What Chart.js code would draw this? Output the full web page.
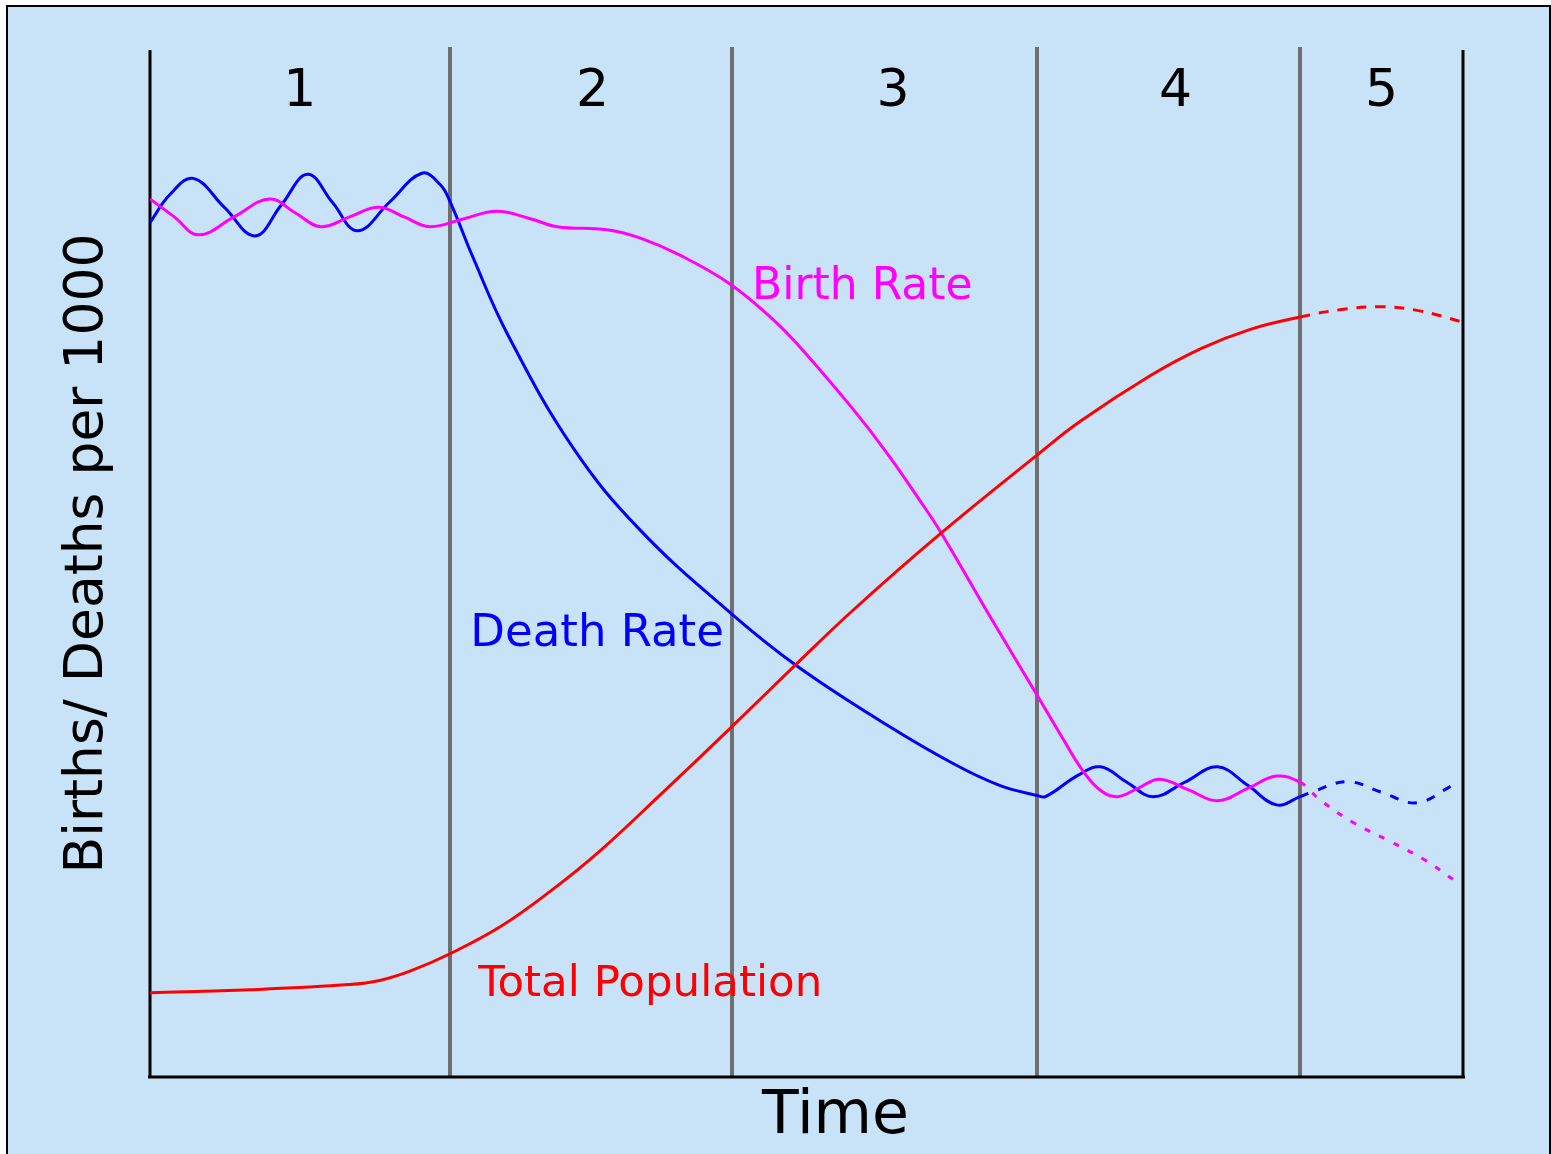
<!DOCTYPE html>
<html>
<head>
<meta charset="utf-8">
<title>Demographic Transition</title>
<script src="https://cdn.jsdelivr.net/npm/chart.js@4"></script>
<style>
  html, body { margin: 0; padding: 0; background: #ffffff; overflow: hidden; }
  #frame {
    position: absolute; left: 6px; top: 5px;
    width: 1541px; height: 1200px;
    border: 2px solid #000; background: #c8e2f8;
  }
  #demo { position: absolute; left: 0; top: 0; }
</style>
</head>
<body>
<div id="frame"></div>
<canvas id="demo" width="1551" height="1154"></canvas>
<script>
// Demographic transition model
// time runs 0..100 across the five stages, rates 0..100 up the axis

const stageLabels = ["1", "2", "3", "4", "5"];
const stageLabelAt = [11.4, 33.7, 56.6, 78.1, 93.8];
const stageBounds = [0, 22.85, 44.33, 67.55, 87.59, 100];
const forecastFrom = 87.59; // stage 5 is drawn dashed

const birthTime = [0, 1.85, 3.7, 6.4, 9.1, 11.05, 13.0, 15.2, 17.4, 19.35, 21.3, 23.85, 26.4, 28.9, 31.0,
  34.8, 37.3, 40.4, 44.2, 47.5, 49.7, 53.5, 56.1, 58.6, 60.2, 64.0, 67.6, 69.5, 71.0, 72.4, 73.7,
  75.3, 76.9, 79.1, 81.3, 83.6, 85.8, 87.6, 88.4, 89.3, 91.6, 94.2, 97.0, 99.4];
const birthRate = [85.5, 83.75, 82.0, 83.75, 85.5, 84.15, 82.8, 83.75, 84.7, 83.75, 82.8, 83.55, 84.3, 83.6, 82.8,
  82.5, 81.7, 80.0, 77.2, 73.7, 70.8, 65.1, 60.8, 56.2, 53.1, 44.8, 37.1, 33.0, 29.9, 27.9, 27.3,
  28.15, 29.0, 27.95, 26.9, 28.1, 29.3, 28.7, 27.8, 26.8, 24.8, 23.1, 21.2, 19.1];

const deathTime = [0, 1.5, 3.3, 5.65, 8.0, 10.0, 12.0, 13.9, 15.8, 18.25, 20.7, 22.1, 22.9, 24.6, 27.2,
  32.2, 37.3, 44.2, 49.3, 56.1, 61.2, 64.7, 67.6, 68.2, 70.7, 72.4, 74.4, 76.4, 78.8, 81.3,
  83.6, 85.8, 87.6, 88.4, 91.2, 93.85, 96.5, 99.2];
const deathRate = [83.2, 85.9, 87.5, 84.7, 81.9, 84.9, 87.9, 85.15, 82.4, 85.2, 88.0, 86.9, 85.1, 79.8, 72.4,
  61.3, 53.3, 45.2, 40.0, 34.3, 30.5, 28.4, 27.4, 27.3, 29.4, 30.2, 28.7, 27.3, 28.7, 30.2,
  28.4, 26.5, 27.3, 27.7, 28.75, 27.7, 26.7, 28.4];

const popTime = [0, 7.6, 15.2, 17.5, 19.8, 22.85, 26.7, 30.5, 34.3, 38.8, 44.3, 49.3, 53.5, 60.2, 67.6, 70.8,
  76.2, 80.0, 83.8, 87.6, 90.6, 93.7, 96.7, 100];
const popValue = [8.2, 8.5, 9.0, 9.4, 10.3, 12.0, 14.65, 18.1, 22.05, 27.4, 34.1, 40.3, 45.4, 52.9, 60.6, 63.8,
  68.3, 70.9, 72.8, 74.0, 74.7, 75.0, 74.6, 73.5];

const zip = (xs, ys) => xs.map((x, i) => ({ x: x, y: ys[i] }));

const dashAfter = (pattern) => (ctx) =>
  ctx.p0.parsed.x >= forecastFrom - 0.01 ? pattern : undefined;

const FONT = "'DejaVu Sans', sans-serif";

// stage dividers, axes and all the labels
const decor = {
  id: "decor",
  beforeDatasetsDraw(chart) {
    const { ctx, chartArea: a, scales } = chart;
    const xs = scales.x;
    ctx.save();
    ctx.lineCap = "butt";
    ctx.strokeStyle = "#6f6f6f";
    ctx.lineWidth = 4;
    stageBounds.slice(1, -1).forEach((b) => {
      const px = Math.round(xs.getPixelForValue(b));
      ctx.beginPath();
      ctx.moveTo(px, a.top - 3);
      ctx.lineTo(px, a.bottom);
      ctx.stroke();
    });
    ctx.strokeStyle = "#000";
    ctx.lineWidth = 3;
    ctx.beginPath();
    ctx.moveTo(a.left, a.top);
    ctx.lineTo(a.left, a.bottom);
    ctx.moveTo(a.right, a.top);
    ctx.lineTo(a.right, a.bottom);
    ctx.moveTo(a.left - 2, a.bottom);
    ctx.lineTo(a.right + 2, a.bottom);
    ctx.stroke();
    ctx.restore();
  },
  afterDraw(chart) {
    const { ctx, chartArea: a, scales } = chart;
    const xs = scales.x, ys = scales.y;
    ctx.save();
    ctx.textBaseline = "middle";
    ctx.textAlign = "center";
    ctx.fillStyle = "#000";
    ctx.font = "52px " + FONT;
    stageLabels.forEach((s, i) => {
      ctx.fillText(s, xs.getPixelForValue(stageLabelAt[i]), a.top + 42);
    });

    ctx.font = "60px " + FONT;
    ctx.fillText("Time", (a.left + a.right) / 2 + 29, a.bottom + 40);

    ctx.save();
    ctx.font = "53.5px " + FONT;
    ctx.translate(88, (a.top + a.bottom) / 2 - 10);
    ctx.rotate(-Math.PI / 2);
    ctx.fillText("Births/ Deaths per 1000", 0, 0);
    ctx.restore();

    ctx.textAlign = "left";
    ctx.font = "44px " + FONT;
    ctx.fillStyle = "#ff00ff";
    ctx.fillText("Birth Rate", xs.getPixelForValue(45.85), ys.getPixelForValue(76.9));
    ctx.font = "45px " + FONT;
    ctx.fillStyle = "#0000ff";
    ctx.fillText("Death Rate", xs.getPixelForValue(24.4), ys.getPixelForValue(43.1));
    ctx.font = "43.5px " + FONT;
    ctx.fillStyle = "#ff0000";
    ctx.fillText("Total Population", xs.getPixelForValue(25.0), ys.getPixelForValue(9.0));
    ctx.restore();
  }
};

new Chart(document.getElementById("demo"), {
  type: "line",
  data: {
    datasets: [
      {
        label: "Total Population",
        data: zip(popTime, popValue),
        borderColor: "#ff0000",
        segment: { borderDash: dashAfter([10, 9]) },
      },
      {
        label: "Birth Rate",
        data: zip(birthTime, birthRate),
        borderColor: "#ff00ff",
        segment: { borderDash: dashAfter([6, 10]) },
      },
      {
        label: "Death Rate",
        data: zip(deathTime, deathRate),
        borderColor: "#0000ff",
        segment: { borderDash: dashAfter([9, 10]) },
      },
    ],
  },
  options: {
    responsive: false,
    animation: false,
    layout: { padding: { left: 150, right: 88, top: 50, bottom: 77 } },
    elements: {
      point: { radius: 0 },
      line: { borderWidth: 3, tension: 0.4, fill: false },
    },
    scales: {
      x: { type: "linear", min: 0, max: 100, display: false },
      y: { min: 0, max: 100, display: false },
    },
    plugins: {
      legend: { display: false },
      tooltip: { enabled: false },
    },
  },
  plugins: [decor],
});
</script>
</body>
</html>
